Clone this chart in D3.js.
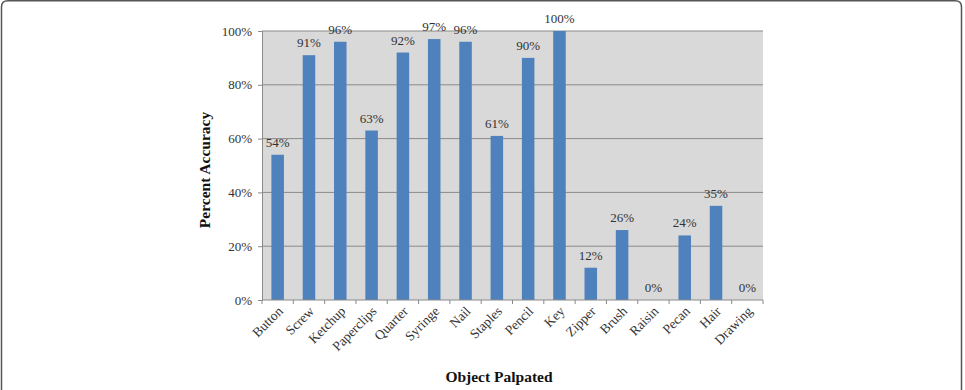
<!DOCTYPE html>
<html>
<head>
<meta charset="utf-8">
<script src="https://cdn.jsdelivr.net/npm/d3@7"></script>
<style>
  body { margin: 0; background: #fff; }
  text { font-family: "Liberation Serif", "Times New Roman", serif; }
</style>
</head>
<body>
<div id="chart"></div>
<script>
// data
const objects = ["Button", "Screw", "Ketchup", "Paperclips", "Quarter", "Syringe", "Nail", "Staples",
                 "Pencil", "Key", "Zipper", "Brush", "Raisin", "Pecan", "Hair", "Drawing"];
const accuracy = [54, 91, 96, 63, 92, 97, 96, 61, 90, 100, 12, 26, 0, 24, 35, 0];
const yTicks = [0, 20, 40, 60, 80, 100];

const W = 965, H = 390;
const margin = {top: 31, right: 202, bottom: 90, left: 262},
    width = W - margin.left - margin.right,
    height = H - margin.top - margin.bottom;

const svg = d3.select("#chart")
    .append("svg")
    .attr("width", W)
    .attr("height", H);

// outer frame with rounded top corners
svg.append("path")
    .attr("d", `M1.5,${H + 10} L1.5,7 Q1.5,0.8 8,0.8 L955,0.8 Q961.5,0.8 961.5,7 L961.5,${H + 10}`)
    .attr("fill", "none")
    .attr("stroke", "#555")
    .attr("stroke-width", 1.5);

const g = svg.append("g")
    .attr("transform", `translate(${margin.left},${margin.top})`);

const x = d3.scaleBand()
    .domain(objects)
    .range([0, width])
    .paddingInner(0.6)
    .paddingOuter(0.3);

const y = d3.scaleLinear()
    .domain([0, 100])
    .range([height, 0]);

//plot background
g.append("rect")
    .attr("width", width)
    .attr("height", height)
    .attr("fill", "#d9d9d9");

//gridlines
g.append("g")
    .selectAll("line")
    .data(yTicks.filter(d => d > 0))
    .join("line")
    .attr("x1", 0).attr("x2", width)
    .attr("y1", d => y(d)).attr("y2", d => y(d))
    .attr("stroke", "#8a8a8a")
    .attr("stroke-width", 1);

//bars
g.append("g")
    .selectAll("rect")
    .data(objects.map((k, i) => ({k, v: accuracy[i]})))
    .join("rect")
    .attr("x", d => x(d.k))
    .attr("y", d => y(d.v))
    .attr("width", x.bandwidth())
    .attr("height", d => height - y(d.v))
    .attr("fill", "#4f81bd");

//value labels
g.append("g")
    .selectAll("text")
    .data(objects.map((k, i) => ({k, v: accuracy[i]})))
    .join("text")
    .attr("x", d => x(d.k) + x.bandwidth() / 2)
    .attr("y", d => y(d.v) - 8)
    .attr("text-anchor", "middle")
    .attr("font-size", "13px")
    .attr("fill", "#333")
    .text(d => d.v + "%");

//Y axis
const yAxis = g.append("g")
    .call(d3.axisLeft(y).tickValues(yTicks).tickSize(4).tickPadding(6).tickFormat(d => d + "%"));
yAxis.select(".domain").attr("stroke", "#8a8a8a");
yAxis.selectAll(".tick line").attr("stroke", "#8a8a8a");
yAxis.selectAll("text")
    .attr("font-family", "Liberation Serif, serif")
    .attr("font-size", "13px")
    .attr("fill", "#333");

//X axis with ticks at band boundaries
const xAxis = g.append("g")
    .attr("transform", `translate(0,${height})`);
xAxis.append("line")
    .attr("x1", 0).attr("x2", width)
    .attr("stroke", "#8a8a8a");
const step = x.step();
xAxis.selectAll(".tk")
    .data(d3.range(objects.length + 1))
    .join("line")
    .attr("class", "tk")
    .attr("x1", i => i * step).attr("x2", i => i * step)
    .attr("y1", 0).attr("y2", 4)
    .attr("stroke", "#8a8a8a");
xAxis.selectAll(".lbl")
    .data(objects)
    .join("text")
    .attr("class", "lbl")
    .attr("text-anchor", "end")
    .attr("font-size", "13.5px")
    .attr("fill", "#333")
    .attr("transform", d => `translate(${x(d) + x.bandwidth() / 2 + 6},${12}) rotate(-45)`)
    .text(d => d);

//axis titles
svg.append("text")
    .attr("x", 499)
    .attr("y", 382)
    .attr("text-anchor", "middle")
    .attr("font-size", "15.5px")
    .attr("font-weight", "bold")
    .attr("fill", "#111")
    .text("Object Palpated");

svg.append("text")
    .attr("transform", "translate(210,170) rotate(-90)")
    .attr("text-anchor", "middle")
    .attr("font-size", "15.5px")
    .attr("font-weight", "bold")
    .attr("fill", "#111")
    .text("Percent Accuracy");
</script>
</body>
</html>
